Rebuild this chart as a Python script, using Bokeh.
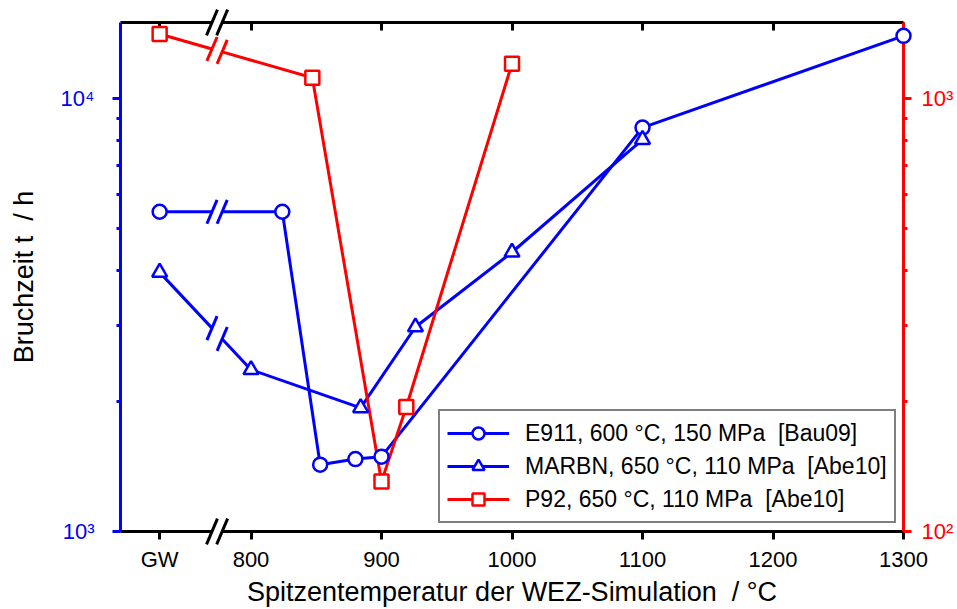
import math
from bokeh.plotting import figure
from bokeh.models import (Range1d, LogScale, LogAxis, LinearAxis, FixedTicker,
                          Legend, LegendItem)
from bokeh.embed import file_html
from bokeh.resources import INLINE

BLUE = "#0000ff"
RED = "#ff0000"
FONT = "Liberation Sans"

# ---------------- data ----------------
GW = 730  # position used for the base material ("Grundwerkstoff")
x_ticks = [730, 800, 900, 1000, 1100, 1200, 1300]
x_tick_labels = ["GW", "800", "900", "1000", "1100", "1200", "1300"]

e911_x = [730, 824, 853, 880, 900, 1100, 1300]
e911_y = [5480, 5480, 1427, 1470, 1489, 8575, 13970]

marbn_x = [730, 800, 884, 926, 1000, 1100]
marbn_y = [3970, 2365, 1931, 2968, 4418, 8045]

p92_x = [730, 847, 900, 919, 1000]
p92_y = [1411, 1118, 130.4, 194, 1205]

left_major = [1000, 10000]
left_minor = [2000, 3000, 4000, 5000, 6000, 7000, 8000, 9000]
left_labels = ["10\u00b3", "10\u2074"]
right_major = [100, 1000]
right_minor = [200, 300, 400, 500, 600, 700, 800, 900]
right_labels = ["10\u00b2", "10\u00b3"]

labels = ["E911, 600 \u00b0C, 150 MPa \u00a0[Bau09]",
          "MARBN, 650 \u00b0C, 110 MPa \u00a0[Abe10]",
          "P92, 650 \u00b0C, 110 MPa \u00a0[Abe10]"]

X_MIN, X_MAX = 700, 1300
Y_MIN, Y_MAX = 1000, 15000
YR_MIN, YR_MAX = 100, 1500
BREAK_X = 774
BREAK_HALF = 3.9

# ---------------- figure ----------------
p = figure(width=957, height=609, x_range=Range1d(X_MIN, X_MAX),
           y_range=Range1d(Y_MIN, Y_MAX), y_axis_type="log",
           output_backend="svg", toolbar_location=None,
           min_border_left=120, min_border_right=54,
           min_border_top=22, min_border_bottom=77)
p.grid.visible = False
p.outline_line_color = None
p.background_fill_color = "white"
p.border_fill_color = "white"

p.extra_y_ranges = {"r": Range1d(YR_MIN, YR_MAX)}
p.extra_y_scales = {"r": LogScale()}

# bottom axis
xa = p.xaxis[0]
xa.ticker = FixedTicker(ticks=x_ticks, minor_ticks=[])
xa.major_label_overrides = {t: l for t, l in zip(x_ticks, x_tick_labels)}
xa.axis_label = "Spitzentemperatur der WEZ-Simulation \u00a0/ \u00b0C"

# left axis
ya = p.yaxis[0]
ya.ticker = FixedTicker(ticks=left_major, minor_ticks=left_minor)
ya.major_label_overrides = {t: l for t, l in zip(left_major, left_labels)}
ya.axis_label = "Bruchzeit t \u00a0/ h"

# right axis
ra = LogAxis(y_range_name="r",
             ticker=FixedTicker(ticks=right_major, minor_ticks=right_minor))
ra.major_label_overrides = {t: l for t, l in zip(right_major, right_labels)}
p.add_layout(ra, "right")

# top axis (ticks only)
ta = LinearAxis(ticker=FixedTicker(ticks=x_ticks, minor_ticks=[]))
ta.major_label_overrides = {t: "" for t in x_ticks}
p.add_layout(ta, "above")

for ax, col in [(xa, "black"), (ya, BLUE), (ra, RED), (ta, "black")]:
    ax.axis_line_color = col
    ax.axis_line_width = 3
    ax.major_tick_line_color = col
    ax.major_tick_line_width = 3
    ax.minor_tick_line_color = col
    ax.minor_tick_line_width = 3
    ax.major_tick_out = 8
    ax.major_tick_in = 0
    ax.minor_tick_out = 4
    ax.minor_tick_in = 0
    ax.major_label_text_color = col
    ax.major_label_text_font = FONT
    ax.major_label_text_font_size = "22px"
    ax.axis_label_text_font = FONT
    ax.axis_label_text_font_size = "27px"
    ax.axis_label_text_font_style = "normal"
    ax.axis_label_text_color = "black"

ta.major_tick_out = 0
ta.major_tick_in = 8
ta.major_label_standoff = 0
xa.major_label_standoff = 7
xa.axis_label_standoff = 2
ya.major_label_standoff = 18
ya.axis_label_standoff = 19
ra.major_label_standoff = 10


def break_points(xs, ys):
    """points on the segment GW -> second point at the two break slashes"""
    x0, x1 = xs[0], xs[1]
    l0, l1 = math.log10(ys[0]), math.log10(ys[1])
    out = []
    for bx in (BREAK_X - BREAK_HALF, BREAK_X + BREAK_HALF):
        t = (bx - x0) / (x1 - x0)
        out.append((bx, 10 ** (l0 + t * (l1 - l0))))
    return out


SLASH_ANGLE = 67
series = [
    (e911_x, e911_y, BLUE, "circle", "default", 14),
    (marbn_x, marbn_y, BLUE, "triangle", "default", 15),
    (p92_x, p92_y, RED, "square", "r", 14),
]
items = []
for (xs, ys, col, mk, rng, sz), lab in zip(series, labels):
    (bx1, by1), (bx2, by2) = break_points(xs, ys)
    lx = [xs[0], bx1, float("nan"), bx2] + xs[1:]
    ly = [ys[0], by1, float("nan"), by2] + ys[1:]
    lr = p.line(lx, ly, line_color=col, line_width=3, y_range_name=rng)
    p.scatter([bx1, bx2], [by1, by2], marker="dash", size=26,
              angle=SLASH_ANGLE, angle_units="deg", line_color=col,
              line_width=3, y_range_name=rng)
    mr = p.scatter(xs, ys, marker=mk, size=sz, fill_color="white",
                   line_color=col, line_width=2.5, y_range_name=rng,
                   level="overlay")
    items.append(LegendItem(label=lab, renderers=[lr, mr]))

# axis breaks (bottom and top)
for yb in (Y_MIN, Y_MAX):
    p.scatter([BREAK_X], [yb], marker="dash", size=22, angle=SLASH_ANGLE,
              angle_units="deg", line_color="white", line_width=9,
              level="overlay")
    p.scatter([BREAK_X - BREAK_HALF, BREAK_X + BREAK_HALF], [yb, yb],
              marker="dash", size=28, angle=SLASH_ANGLE, angle_units="deg",
              line_color="black", line_width=3, level="overlay")

legend = Legend(items=items, location=(318, 8))
legend.border_line_color = "black"
legend.border_line_width = 2
legend.background_fill_color = "white"
legend.background_fill_alpha = 1
legend.label_text_font = FONT
legend.label_text_font_size = "23px"
legend.label_text_color = "black"
legend.glyph_width = 62
legend.glyph_height = 30
legend.label_height = 30
legend.label_standoff = 16
legend.padding = 7
legend.spacing = 3
legend.margin = 0
p.add_layout(legend)

open("out.html", "w").write(file_html(p, INLINE))
